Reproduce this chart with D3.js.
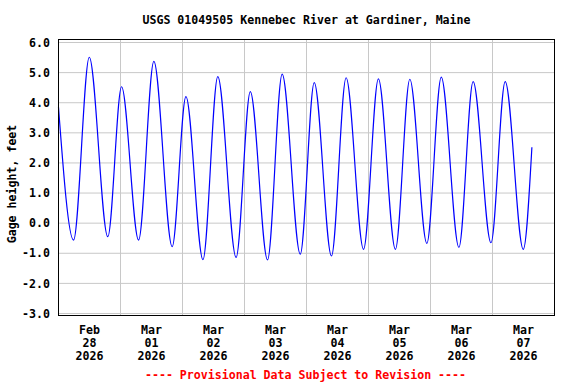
<!DOCTYPE html>
<html>
<head>
<meta charset="utf-8">
<script src="https://cdn.jsdelivr.net/npm/d3@7"></script>
<style>
  body { margin: 0; background: #fff; }
  svg text { font-family: "DejaVu Sans Mono", monospace; font-weight: bold; }
</style>
</head>
<body>
<svg></svg>
<script>
/*
*  DATA
*/

let title = 'USGS 01049505 Kennebec River at Gardiner, Maine',
    yLabel = 'Gage height, feet',
    footer = '---- Provisional Data Subject to Revision ----'

// high / low tide turning points
let times = [
  '2026-02-28 00:00', '2026-02-28 05:50', '2026-02-28 11:55', '2026-02-28 19:05',
  '2026-03-01 00:25', '2026-03-01 07:00', '2026-03-01 12:55', '2026-03-01 20:00',
  '2026-03-02 01:20', '2026-03-02 07:55', '2026-03-02 13:40', '2026-03-02 20:45',
  '2026-03-03 02:15', '2026-03-03 08:55', '2026-03-03 14:35', '2026-03-03 21:35',
  '2026-03-04 03:00', '2026-03-04 09:40', '2026-03-04 15:20', '2026-03-04 22:05',
  '2026-03-05 03:50', '2026-03-05 10:25', '2026-03-05 16:00', '2026-03-05 22:35',
  '2026-03-06 04:10', '2026-03-06 11:00', '2026-03-06 16:30', '2026-03-06 23:25',
  '2026-03-07 04:55', '2026-03-07 11:55', '2026-03-07 15:15'
]
let gageHeight = [
  3.85, -0.56, 5.51, -0.45,
  4.53, -0.56, 5.37, -0.78,
  4.20, -1.21, 4.87, -1.14,
  4.37, -1.22, 4.95, -1.03,
  4.67, -1.09, 4.83, -0.87,
  4.79, -0.87, 4.78, -0.67,
  4.85, -0.80, 4.70, -0.65,
  4.70, -0.87, 2.52
]

let yTicks = [-3, -2, -1, 0, 1, 2, 3, 4, 5, 6]
let dayStart = '2026-02-28 00:00',
    dayEnd = '2026-03-08 00:00'

/*
*  RUN
*/

let width = 576,
    height = 384

let svg = d3.select('svg').attr('width', width).attr('height', height)

let parse = d3.utcParse('%Y-%m-%d %H:%M')
let data = times.map((t, i) => ({ date: parse(t), value: gageHeight[i] }))

let fmt = d3.formatLocale({ decimal: '.', thousands: ',', grouping: [3], currency: ['$', ''], minus: '-' }).format('.1f')

let pLeft = 58.5, pRight = 554.5, pTop = 39.5, pBottom = 315.5

let x = d3.scaleUtc()
  .domain([parse(dayStart), parse(dayEnd)])
  .range([pLeft, pRight])

let y = d3.scaleLinear()
  .domain([-3, 6])
  .range([313.5, 42.5])

// grid
let days = d3.utcDay.range(d3.utcDay.offset(parse(dayStart), 1), parse(dayEnd))
svg.append('g').selectAll('line')
  .data(days)
  .enter().append('line')
  .attr('x1', d => x(d))
  .attr('x2', d => x(d))
  .attr('y1', pTop)
  .attr('y2', pBottom)
  .attr('stroke', '#c8c8c8')

svg.append('g').selectAll('line')
  .data(yTicks)
  .enter().append('line')
  .attr('x1', pLeft)
  .attr('x2', pRight)
  .attr('y1', d => y(d))
  .attr('y2', d => y(d))
  .attr('stroke', '#c8c8c8')

// tide line
let line = d3.line()
  .x(d => x(d.date))
  .y(d => y(d.value))
  .curve(d3.curveMonotoneX)

svg.append('path')
  .datum(data)
  .attr('d', line)
  .attr('fill', 'none')
  .attr('stroke', '#0000ff')
  .attr('stroke-width', 1.2)

// frame
svg.append('rect')
  .attr('x', pLeft).attr('y', pTop)
  .attr('width', pRight - pLeft).attr('height', pBottom - pTop)
  .attr('fill', 'none')
  .attr('stroke', '#000')
  .attr('stroke-width', 1)

// y tick labels
svg.append('g').selectAll('text')
  .data(yTicks)
  .enter().append('text')
  .attr('x', 50)
  .attr('y', d => y(d))
  .attr('dy', '0.36em')
  .attr('text-anchor', 'end')
  .attr('font-size', '11.6px')
  .text(d => fmt(d))

// x labels at noon of each day
let noons = d3.utcDay.range(parse(dayStart), parse(dayEnd)).map(d => d3.utcHour.offset(d, 12))
let lab = svg.append('g').selectAll('text')
  .data(noons)
  .enter().append('text')
  .attr('text-anchor', 'middle')
  .attr('font-size', '11.6px')
lab.append('tspan').attr('x', d => x(d)).attr('y', 333.5).text(d3.utcFormat('%b'))
lab.append('tspan').attr('x', d => x(d)).attr('y', 346.8).text(d3.utcFormat('%d'))
lab.append('tspan').attr('x', d => x(d)).attr('y', 360).text(d3.utcFormat('%Y'))

// titles
svg.append('text')
  .attr('x', (pLeft + pRight) / 2)
  .attr('y', 24)
  .attr('text-anchor', 'middle')
  .attr('font-size', '11.6px')
  .text(title)

svg.append('text')
  .attr('transform', 'translate(15.5,184) rotate(-90)')
  .attr('text-anchor', 'middle')
  .attr('font-size', '11.6px')
  .text(yLabel)

svg.append('text')
  .attr('x', 305.5)
  .attr('y', 378.5)
  .attr('text-anchor', 'middle')
  .attr('font-size', '11.6px')
  .attr('fill', '#ff0000')
  .text(footer)
</script>
</body>
</html>
